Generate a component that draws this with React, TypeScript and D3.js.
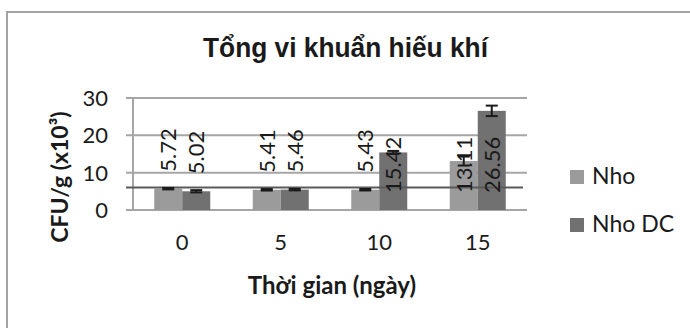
import React from "react";
import * as d3 from "d3";

const categories = ["0", "5", "10", "15"];
const seriesNames = ["Nho", "Nho DC"];
const nhoValues = [5.72, 5.41, 5.43, 13.11];
const nhoDCValues = [5.02, 5.46, 15.42, 26.56];
const nhoErrors = [0.2, 0.2, 0.2, 1.2];
const nhoDCErrors = [0.3, 0.2, 0.4, 1.4];
const nhoLabels = ["5.72", "5.41", "5.43", "13.11"];
const nhoDCLabels = ["5.02", "5.46", "15.42", "26.56"];
const yTicks = [0, 10, 20, 30];
const refLineValue = 6;

const title = "Tổng vi khuẩn hiếu khí";
const xTitle = "Thời gian (ngày)";
const yTitle = "CFU/g (x10³)";

const colors = ["#9b9b9b", "#717171"];
const W = 690;
const H = 328;
const plot = { left: 133, right: 527, top: 98, bottom: 210 };
const font = "Lato, 'Open Sans', sans-serif";

export default function App() {
  const x0 = d3.scaleBand<string>().domain(categories).range([plot.left, plot.right]).padding(0);
  const y = d3.scaleLinear().domain([0, 30]).range([plot.bottom, plot.top]);
  const barW = 28;
  const x1 = d3.scaleBand<string>().domain(seriesNames).range([-barW, barW]).padding(0);

  const series = [
    { name: seriesNames[0], values: nhoValues, errors: nhoErrors, labels: nhoLabels, color: colors[0] },
    { name: seriesNames[1], values: nhoDCValues, errors: nhoDCErrors, labels: nhoDCLabels, color: colors[1] },
  ];

  return (
    <svg width={W} height={H} style={{ position: "absolute", left: 0, top: 0, background: "#fff" }}>
      <rect x={7} y={12} width={720} height={400} fill="#fff" stroke="#a3a3a3" strokeWidth={2} />
      <text x={203} y={57} textLength={285} lengthAdjust="spacingAndGlyphs" fontFamily="'Liberation Sans', Arial, sans-serif" fontWeight="bold" fontSize={28} fill="#1a1a1a">
        {title}
      </text>
      {yTicks.map((t) => (
        <g key={t}>
          <line x1={plot.left - 7} x2={plot.right} y1={y(t)} y2={y(t)} stroke="#a6a6a6" strokeWidth={2} />
          <text x={108} y={y(t)} dy="0.36em" textAnchor="end" fontFamily={font} fontSize={22} fill="#1a1a1a">
            {t}
          </text>
        </g>
      ))}
      <line x1={plot.left} x2={plot.left} y1={plot.top} y2={plot.bottom} stroke="#a6a6a6" strokeWidth={2} />
      {series.map((s) =>
        categories.map((c, i) => {
          const bx = x0(c)! + x0.bandwidth() / 2 + x1(s.name)!;
          const bw = x1.bandwidth();
          const v = s.values[i];
          return (
            <rect key={s.name + c} x={bx} y={y(v)} width={bw} height={y(0) - y(v)} fill={s.color} />
          );
        })
      )}
      <line x1={plot.left - 7} x2={523} y1={y(refLineValue)} y2={y(refLineValue)} stroke="#5a5a5a" strokeWidth={2} />
      {series.map((s) =>
        categories.map((c, i) => {
          const cx = x0(c)! + x0.bandwidth() / 2 + x1(s.name)! + x1.bandwidth() / 2;
          const v = s.values[i];
          const e = s.errors[i];
          return (
            <g key={"e" + s.name + c} stroke="#1a1a1a" strokeWidth={2}>
              <line x1={cx} x2={cx} y1={y(v + e)} y2={y(v - e)} />
              <line x1={cx - 6} x2={cx + 6} y1={y(v + e)} y2={y(v + e)} />
              <line x1={cx - 6} x2={cx + 6} y1={y(v - e)} y2={y(v - e)} />
            </g>
          );
        })
      )}
      {series.map((s) =>
        categories.map((c, i) => {
          const cx = x0(c)! + x0.bandwidth() / 2 + x1(s.name)! + x1.bandwidth() / 2;
          const v = s.values[i];
          const base = v < 10 ? y(v) - 17 : y(0) - 17;
          return (
            <text
              key={"l" + s.name + c}
              transform={`translate(${cx},${base}) rotate(-90)`}
              dy="0.36em"
              textAnchor="start"
              fontFamily={font}
              fontSize={22}
              fill="#1a1a1a"
            >
              {s.labels[i]}
            </text>
          );
        })
      )}
      {categories.map((c) => (
        <text key={"x" + c} x={x0(c)! + x0.bandwidth() / 2} y={250} textAnchor="middle" fontFamily={font} fontSize={22} fill="#1a1a1a">
          {c}
        </text>
      ))}
      <text x={332} y={294} textAnchor="middle" fontFamily={font} fontWeight="bold" fontSize={24} fill="#1a1a1a">
        {xTitle}
      </text>
      <text transform={`translate(60,177) rotate(-90)`} dy="0.36em" textAnchor="middle" fontFamily={font} fontWeight="bold" fontSize={23} fill="#1a1a1a">
        {yTitle}
      </text>
      {series.map((s, i) => (
        <g key={"lg" + s.name} transform={`translate(570,${170 + i * 48})`}>
          <rect x={0} y={0} width={14} height={14} fill={s.color} />
          <text x={22} y={14} fontFamily={font} fontSize={23} fill="#1a1a1a">
            {s.name}
          </text>
        </g>
      ))}
    </svg>
  );
}
